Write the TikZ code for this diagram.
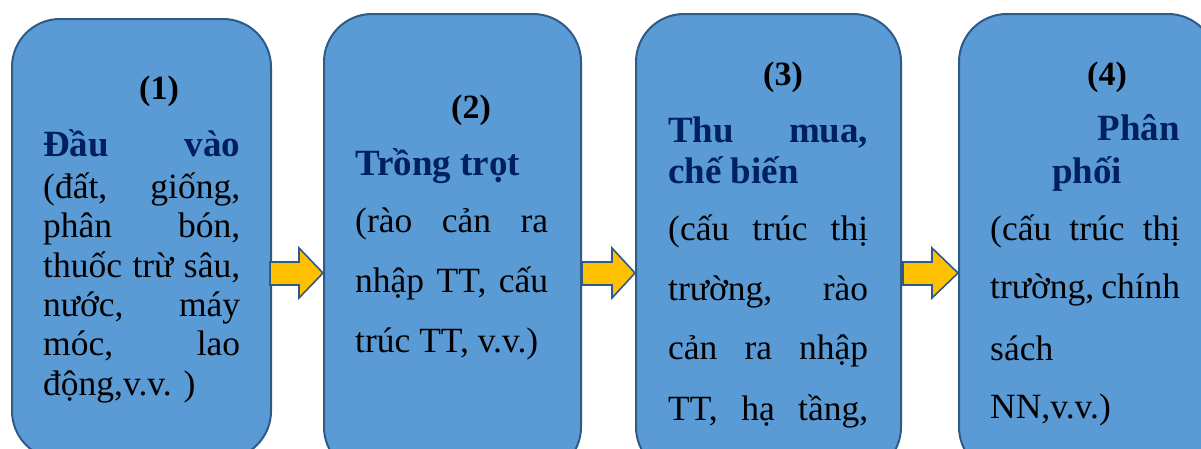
\documentclass[tikz,border=0pt]{standalone}
\usepackage{fontspec}
\setmainfont{Liberation Serif}
\definecolor{boxfill}{HTML}{5B9BD5}
\definecolor{boxline}{HTML}{2E5A88}
\definecolor{navy}{HTML}{002060}
\definecolor{arrowfill}{HTML}{FFC000}
\begin{document}
\begin{tikzpicture}[x=1pt,y=-1pt,
  stage/.style={draw=boxline, fill=boxfill, line width=2pt, rounded corners=48pt, anchor=north west, inner sep=0pt},
  blockarrow/.style={draw=boxline, fill=arrowfill, line width=1.6pt, line join=miter},
  txt/.style={font=\fontsize{35.5}{40}\selectfont, inner sep=0pt, anchor=base west, text=black},
  ttl/.style={font=\fontsize{37}{40}\selectfont\bfseries, inner sep=0pt, anchor=base west, text=navy},
  num/.style={font=\fontsize{34}{40}\selectfont\bfseries, inner sep=0pt, anchor=base, text=black}]
\useasboundingbox (0,0) rectangle (1201,448);
% boxes
\node[stage, minimum width=259pt, minimum height=440pt] (b1) at (11,18) {};
\node[stage, minimum width=257pt, minimum height=461pt] (b2) at (323,13) {};
\node[stage, minimum width=265pt, minimum height=461pt] (b3) at (635,13) {};
\node[stage, minimum width=257pt, minimum height=461pt] (b4) at (958,13) {};
% arrows
\draw[blockarrow] (270,262) -- (299,262) -- (299,248) -- (323,273) -- (299,298) -- (299,285) -- (270,285) -- cycle;
\draw[blockarrow] (582,262) -- (612,262) -- (612,248) -- (635,273) -- (612,298) -- (612,285) -- (582,285) -- cycle;
\draw[blockarrow] (903,262) -- (932,262) -- (932,248) -- (958,273) -- (932,298) -- (932,285) -- (903,285) -- cycle;
% box 1
\node[num] (n1) at (159,99) {(1)};
\node[ttl] (t1) at (43,156) {\hbox to 197pt{Đầu\hfill vào}};
\node[txt] (a1) at (43,198) {\hbox to 197pt{(đất,\hfill giống,}};
\node[txt] (a2) at (43,237) {\hbox to 197pt{phân\hfill bón,}};
\node[txt] (a3) at (43,277) {\hbox to 197pt{thuốc\hfill trừ\hfill sâu,}};
\node[txt] (a4) at (43,316) {\hbox to 197pt{nước,\hfill máy}};
\node[txt] (a5) at (43,355) {\hbox to 197pt{móc,\hfill lao}};
\node[txt] (a6) at (43,395) {động,v.v. )};
% box 2
\node[num] (n2) at (471,118) {(2)};
\node[ttl] (t2) at (355,175) {Trồng trọt};
\node[txt] (c1) at (355,232) {\hbox to 193pt{(rào\hfill cản\hfill ra}};
\node[txt] (c2) at (355,292) {\hbox to 193pt{nhập\hfill TT,\hfill cấu}};
\node[txt] (c3) at (355,352) {trúc TT, v.v.)};
% box 3
\node[num] (n3) at (783,85) {(3)};
\node[ttl] (t3) at (668,142) {\hbox to 200pt{Thu\hfill mua,}};
\node[ttl] (t3b) at (668,183) {chế biến};
\node[txt] (d1) at (668,240) {\hbox to 200pt{(cấu\hfill trúc\hfill thị}};
\node[txt] (d2) at (668,300) {\hbox to 200pt{trường,\hfill rào}};
\node[txt] (d3) at (668,359) {\hbox to 200pt{cản\hfill ra\hfill nhập}};
\node[txt] (d4) at (668,420) {\hbox to 200pt{TT,\hfill hạ\hfill tầng,}};
% box 4
\node[num] (n4) at (1107,85) {(4)};
\node[ttl, anchor=base east] (t4) at (1180,140) {Phân};
\node[ttl] (t4b) at (1052,183) {phối};
\node[txt] (e1) at (990,240) {\hbox to 190pt{(cấu\hfill trúc\hfill thị}};
\node[txt] (e2) at (990,298) {\hbox to 190pt{trường,\hfill chính}};
\node[txt] (e3) at (990,360) {sách};
\node[txt] (e4) at (990,418) {NN,v.v.)};
\end{tikzpicture}
\end{document}
